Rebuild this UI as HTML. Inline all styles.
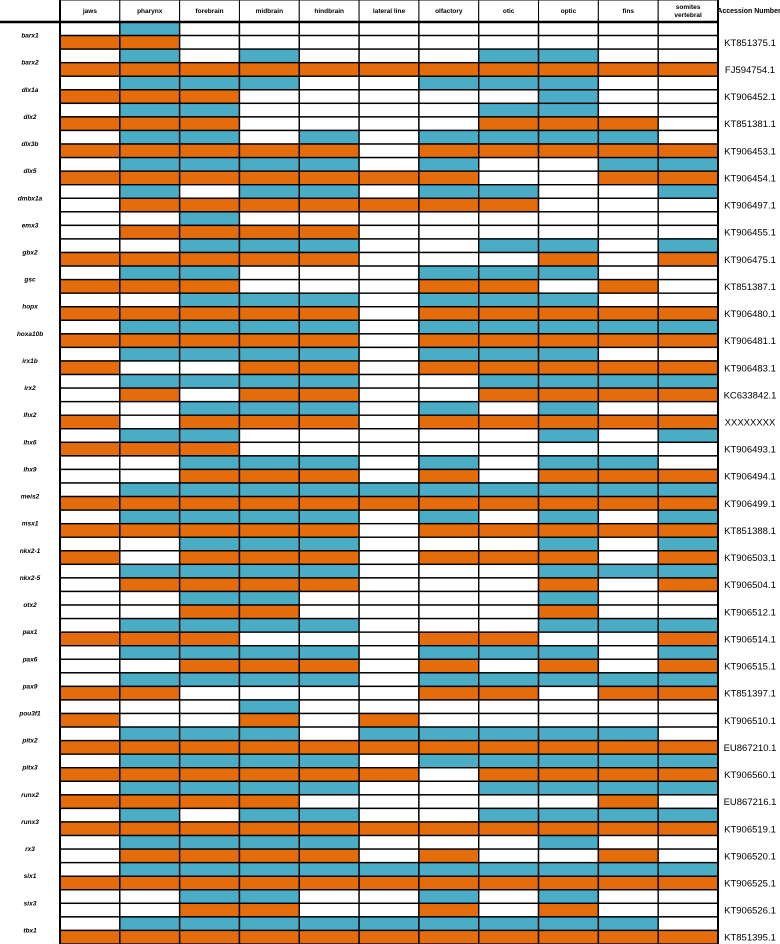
<!DOCTYPE html>
<html><head><meta charset="utf-8">
<style>
html,body{margin:0;padding:0;background:#fff;}
svg{display:block;font-family:"Liberation Sans",sans-serif;}
</style></head>
<body>
<svg id="chart" width="780" height="944" viewBox="0 0 780 944" xmlns="http://www.w3.org/2000/svg"></svg>
<script>
const tissues = ["jaws","pharynx","forebrain","midbrain","hindbrain","lateral line","olfactory","otic","optic","fins","somites|vertebral"];
const genes = ["barx1","barx2","dlx1a","dlx2","dlx3b","dlx5","dmbx1a","emx3","gbx2","gsc","hopx","hoxa10b","irx1b","irx2","lhx2","lhx6","lhx9","meis2","msx1","nkx2-1","nkx2-5","otx2","pax1","pax6","pax9","pou3f1","pitx2","pitx3","runx2","runx3","rx3","six1","six3","tbx1"];
const accessions = ["KT851375.1","FJ594754.1","KT906452.1","KT851381.1","KT906453.1","KT906454.1","KT906497.1","KT906455.1","KT906475.1","KT851387.1","KT906480.1","KT906481.1","KT906483.1","KC633842.1","XXXXXXXX","KT906493.1","KT906494.1","KT906499.1","KT851388.1","KT906503.1","KT906504.1","KT906512.1","KT906514.1","KT906515.1","KT851397.1","KT906510.1","EU867210.1","KT906560.1","EU867216.1","KT906519.1","KT906520.1","KT906525.1","KT906526.1","KT851395.1"];
const blueRows = [".b.........",".b.b...bb..",".bbb..bbb..",".bb....bb..",".bb.b.bbbb.",".bbbb.b..bb",".b.bb.bb..b","..b........","..bbb..bb.b",".bb...bbb..","..bbb.bbb..",".bbbb.bbbbb",".bbbb.bbb..",".bbbb..bbbb","..bbb.b.b..",".bb.....b.b","..bbb.b.bb.",".bbbbbbbbbb",".bbbb.b.b.b","..bbb...b.b",".bbbb...bbb","..bb....b..",".bbbb...bbb",".bbbb.bbb.b",".bbbb.bbbbb","...b.......",".bbb.bbbbb.",".bbbb.bbbbb",".bbbb..bbbb",".b.bb..bbbb",".bbbb...b..",".bbbbbbbbbb","..bb..b.b..",".bbbbbbbbb."];
const orangeRows = ["oo.........","ooooooooooo","ooo.....b..","ooo....ooo.","ooooo.ooooo","ooooooo..oo",".ooooooo...",".oooo......","ooooo...o.o","ooo...oo.o.","ooooo.ooooo","ooooo.ooooo","o..oo.ooooo",".o.oo..oooo","o.ooo.ooooo","ooo........","..ooo.o.ooo","ooooooooooo","ooooo.ooooo","o.ooo.ooo.o",".oooo...o.o","..oo....o..","ooo...oo..o","..ooo.o.o.o","oo....oo.oo","o..o.o.....","ooooooooooo","oooooo.oooo","oooo.....o.","ooooooooooo",".oooo.o..o.","ooooooooooo","..oo..o.o..","ooooooooooo"];

const NS="http://www.w3.org/2000/svg";
const svg=document.getElementById('chart');
const gridL=60, gridR=718, top0=22, bottom=944;
const colW=(gridR-gridL)/tissues.length;
const rowH=(bottom-top0)/(genes.length*2);
const xCol=i=>gridL+i*colW;
const yRow=r=>top0+r*rowH;
const colors={b:"#4bacc6",o:"#e46c0a",".":"#ffffff"};
function mk(tag,attrs){const e=document.createElementNS(NS,tag);for(const k in attrs)e.setAttribute(k,attrs[k]);svg.appendChild(e);return e;}

// header
tissues.forEach((t,i)=>{
  const x=xCol(i);
  const r=mk('rect',{x:x,y:0,width:colW,height:top0,fill:'#fff',stroke:'#000','stroke-width':1});
  
  
  const parts=t.split('|');
  parts.forEach((p,k)=>{
    const tx=mk('text',{x:x+colW/2,y:parts.length===1?13:9+k*8,'text-anchor':'middle','font-size':6.5,'font-weight':'bold',fill:'#000'});
    tx.textContent=p;
    
    
  });
});
const ah=mk('text',{x:749,y:13,'text-anchor':'middle','font-size':7,'font-weight':'bold',fill:'#000'});
ah.textContent="Accession Number";



// cells
genes.forEach((g,gi)=>{
  [blueRows[gi],orangeRows[gi]].forEach((row,k)=>{
    const r=gi*2+k;
    for(let c=0;c<tissues.length;c++){
      const ch=row[c]||'.';
      const cell=mk('rect',{x:xCol(c),y:yRow(r),width:colW,height:rowH,fill:colors[ch],stroke:'#000','stroke-width':1.4});
      
      
    }
  });
  const gl=mk('text',{x:30,y:yRow(gi*2)+rowH+2,'text-anchor':'middle','font-size':6.5,'font-weight':'bold','font-style':'italic',fill:'#000'});
  gl.textContent=g;
  
  
  const al=mk('text',{x:750,y:yRow(gi*2+1)+rowH/2+3.5,'text-anchor':'middle','font-size':9.5,fill:'#000'});
  al.textContent=accessions[gi];
  
  
});
// thick lines
const l1=mk('line',{x1:0,y1:top0,x2:gridR,y2:top0,stroke:'#000','stroke-width':2.5});


const l2=mk('line',{x1:gridL,y1:0,x2:gridL,y2:bottom,stroke:'#000','stroke-width':2});


const l3=mk('line',{x1:gridR,y1:0,x2:gridR,y2:bottom,stroke:'#000','stroke-width':2});


</script>
</body></html>
